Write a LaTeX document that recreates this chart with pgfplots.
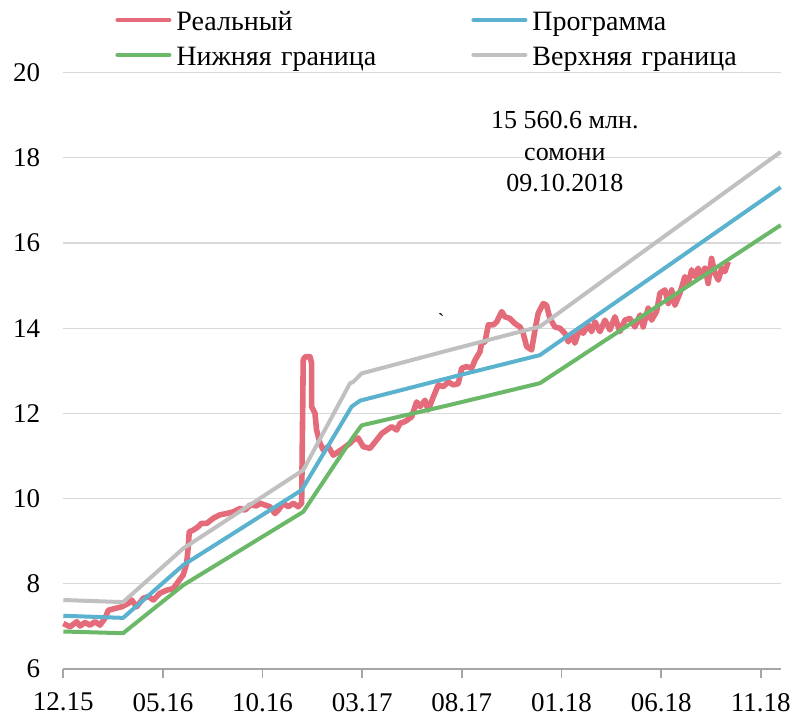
\documentclass[border=0pt]{standalone}
\usepackage{fontspec}
\setmainfont{Liberation Serif}
\usepackage{pgfplots}
\pgfplotsset{compat=1.18}
\definecolor{cReal}{RGB}{228,108,122}
\definecolor{cProg}{RGB}{91,178,206}
\definecolor{cLow}{RGB}{106,184,104}
\definecolor{cUp}{RGB}{192,192,192}
\definecolor{axisgray}{RGB}{166,166,166}
\definecolor{gridgray}{RGB}{217,217,217}
\begin{document}
\begin{tikzpicture}
\useasboundingbox (-31.65pt,-26pt) rectangle (365.35pt,334.5pt);
\begin{axis}[
  scale only axis, width=358.7pt, height=298.15pt,
  xmin=0, xmax=36, ymin=6, ymax=20,
  xtick={0,5,10,15,20,25,30,35},
  xticklabels={12.15,05.16,10.16,03.17,08.17,01.18,06.18,11.18},
  ytick={6,8,10,12,14,16,18,20},
  axis x line*=bottom, axis y line*=left,
  y axis line style={draw=none},
  x axis line style={color=axisgray, line width=0.8pt},
  tick align=outside, major tick length=4.5pt,
  xtick style={color=axisgray, line width=0.8pt},
  ytick style={draw=none},
  ymajorgrids, grid style={color=gridgray, line width=0.6pt},
  tick label style={font=\fontsize{13.5}{16}\selectfont},
  xticklabel style={yshift=-4pt},
  yticklabel style={xshift=-3.5pt},
  /pgf/number format/assume math mode=true,
  legend columns=2,
  legend cell align=left,
  legend style={draw=none, fill=none, at={(0.0721,1.1)}, anchor=north west,
    font=\fontsize{14}{16}\selectfont, row sep=6pt, inner sep=0pt,
    nodes={inner sep=0pt, text height=8.5pt, text depth=3pt, text width=140pt, align=left},
    /tikz/every odd column/.style={column sep=2.5pt},
    /tikz/every even column/.style={column sep=7.5pt}},
  legend image code/.code={\draw[#1, line width=2pt, line cap=round] (0pt,2.5pt) -- (26pt,2.5pt);},
  clip=false,
]
\addplot[cReal, line width=2.8pt, line join=round] coordinates {
(0,7.07) (0.34,6.99) (0.67,7.11) (0.84,7.01) (1.09,7.09) (1.34,7.03) (1.59,7.11) (1.84,7.03) (2.09,7.19) (2.26,7.38) (2.59,7.42) (2.93,7.46) (3.26,7.54) (3.43,7.62) (3.68,7.46) (4.01,7.66) (4.27,7.70) (4.52,7.62) (4.85,7.78) (5.19,7.85) (5.52,7.89) (5.77,8.05) (6.02,8.21) (6.19,8.48) (6.27,8.87) (6.32,9.22) (6.52,9.26) (6.77,9.34) (6.94,9.42) (7.20,9.42) (7.53,9.54) (7.86,9.62) (8.20,9.65) (8.53,9.69) (8.87,9.77) (9.12,9.73) (9.37,9.85) (9.70,9.83) (9.87,9.89) (10.37,9.81) (10.62,9.65) (10.79,9.73) (11.04,9.89) (11.29,9.81) (11.54,9.89) (11.79,9.81) (11.96,9.89) (12.04,13.25) (12.13,13.33) (12.38,13.33) (12.46,13.18) (12.46,12.16) (12.63,12.0) (12.71,11.61) (12.88,11.30) (13.05,11.14) (13.30,11.22) (13.55,11.02) (13.80,11.10) (14.05,11.18) (14.39,11.30) (14.55,11.38) (14.80,11.42) (15.05,11.22) (15.39,11.18) (15.73,11.38) (15.98,11.53) (16.23,11.61) (16.48,11.69) (16.73,11.61) (16.90,11.77) (17.15,11.81) (17.48,11.92) (17.73,12.27) (17.90,12.16) (18.15,12.31) (18.31,12.08) (18.57,12.39) (18.82,12.67) (19.07,12.63) (19.32,12.74) (19.57,12.67) (19.82,12.70) (19.99,13.06) (20.24,13.10) (20.49,13.06) (20.66,13.25) (20.91,13.45) (20.99,13.65) (21.16,13.68) (21.33,14.08) (21.58,14.08) (21.75,14.15) (22.00,14.39) (22.16,14.27) (22.41,14.23) (22.66,14.11) (22.92,14.03) (23.08,13.88) (23.25,13.57) (23.50,13.49) (23.67,13.96) (23.83,14.35) (24.08,14.58) (24.25,14.54) (24.42,14.23) (24.67,14.03) (24.92,14.00) (25.17,13.88) (25.34,13.68) (25.51,13.88) (25.67,13.65) (25.92,14.00) (26.09,13.88) (26.34,14.08) (26.51,13.92) (26.68,14.15) (26.93,13.92) (27.18,14.19) (27.43,13.96) (27.68,14.27) (27.93,13.92) (28.18,14.19) (28.43,14.23) (28.68,14.03) (28.94,14.31) (29.10,14.03) (29.35,14.47) (29.52,14.19) (29.77,14.39) (29.94,14.82) (30.19,14.90) (30.36,14.58) (30.53,14.90) (30.69,14.54) (30.94,14.82) (31.19,15.21) (31.36,15.05) (31.53,15.37) (31.70,15.21) (31.86,15.41) (32.03,15.21) (32.20,15.41) (32.36,15.05) (32.53,15.64) (32.70,15.29) (32.87,15.13) (33.04,15.41) (33.20,15.33) (33.37,15.56)
};
\addlegendentry{Реальный}
\addplot[cProg, line width=2pt, line join=round] coordinates {
(0,7.25) (3.0,7.20) (6.02,8.44) (11.96,10.2) (14.47,12.16) (14.89,12.30) (19.9,12.90) (23.92,13.37) (36,17.31)
};
\addlegendentry{Программа}
\addplot[cLow, line width=2pt, line join=round] coordinates {
(0,6.88) (3.0,6.84) (6.02,7.97) (12.04,9.69) (14.55,11.45) (14.97,11.72) (19.4,12.2) (23.92,12.71) (36,16.42)
};
\addlegendentry{Нижняя граница}
\addplot[cUp, line width=2pt, line join=round] coordinates {
(0,7.62) (3.0,7.57) (6.02,8.83) (12.04,10.67) (14.39,12.71) (14.55,12.74) (14.97,12.94) (19.4,13.49) (23.92,14.04) (36,18.14)
};
\addlegendentry{Верхняя граница}
\node[align=center, font=\fontsize{13}{15.75}\selectfont] at (axis cs:25.17,18.14) {15 560.6 млн.\\сомони\\09.10.2018};
\node[font=\fontsize{10}{12}\selectfont] at (axis cs:18.96,14.19) {\textasciigrave};
\end{axis}
\end{tikzpicture}
\end{document}
